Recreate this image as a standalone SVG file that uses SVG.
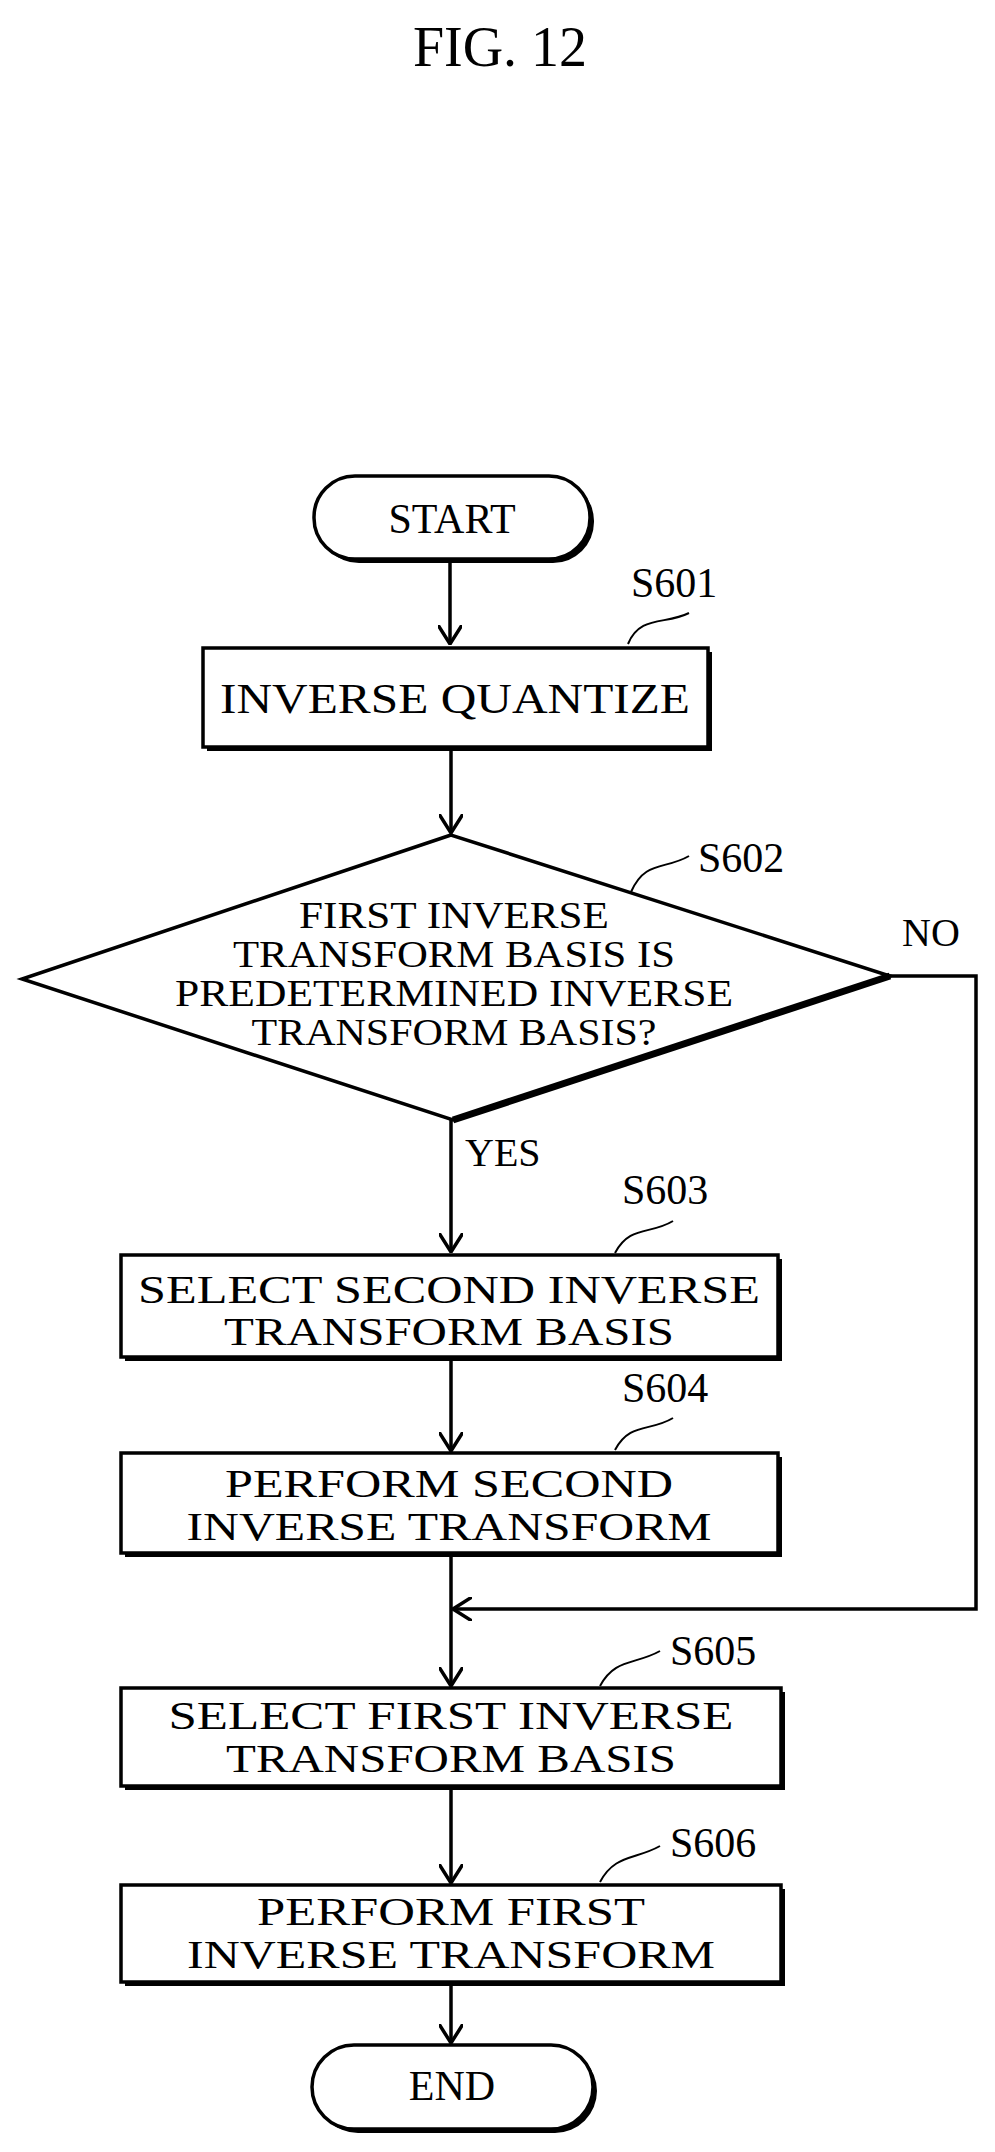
<svg xmlns="http://www.w3.org/2000/svg" width="995" height="2152" viewBox="0 0 995 2152">
<style>
text{font-family:"Liberation Serif","Times New Roman",serif;fill:#000;text-anchor:middle}
.t{font-size:40px}
.d{font-size:37px}
.l{font-size:42px;text-anchor:start}
.box{fill:#fff;stroke:#000;stroke-width:3.5}
.sh{fill:#000}
.ln{fill:none;stroke:#000;stroke-width:3.5}
.ld{fill:none;stroke:#000;stroke-width:2}
</style>
<defs>
<marker id="a" viewBox="0 0 20 24" refX="19" refY="12" markerWidth="20" markerHeight="24" markerUnits="userSpaceOnUse" orient="auto">
<path d="M0,0 L19,12 L0,24" fill="none" stroke="#000" stroke-width="3.5"/>
</marker>
</defs>
<text x="500" y="66" style="font-size:56px">FIG. 12</text>
<g id="start"><rect x="318" y="480" width="276" height="83" rx="41" class="sh"/><rect x="314" y="476" width="276" height="83" rx="41" class="box"/><text x="452" y="533" style="font-size:42px">START</text></g>
<g id="s601"><rect x="207" y="652" width="505" height="99" class="sh"/><rect x="203" y="648" width="505" height="99" class="box"/><text x="455" y="713" style="font-size:42px" textLength="470" lengthAdjust="spacingAndGlyphs">INVERSE QUANTIZE</text>
<path class="ld" d="M628,644 C640,615 665,625 689,613"/><text x="631" y="597" class="l">S601</text></g>
<g id="s602"><path d="M451,835 L22,979 L453,1120 L890,976 Z" fill="#fff" stroke="#000" stroke-width="3.5"/><path d="M453,1120 L890,976" stroke="#000" stroke-width="7"/>
<text x="454" y="928" class="d" textLength="310" lengthAdjust="spacingAndGlyphs">FIRST INVERSE</text>
<text x="454" y="967" class="d" textLength="442" lengthAdjust="spacingAndGlyphs">TRANSFORM BASIS IS</text>
<text x="454" y="1006" class="d" textLength="558" lengthAdjust="spacingAndGlyphs">PREDETERMINED INVERSE</text>
<text x="454" y="1045" class="d" textLength="405" lengthAdjust="spacingAndGlyphs">TRANSFORM BASIS?</text>
<path class="ld" d="M631,892 C645,860 665,870 689,856"/><text x="698" y="872" class="l">S602</text></g>
<g id="s603"><rect x="125" y="1259" width="657" height="102" class="sh"/><rect x="121" y="1255" width="657" height="102" class="box"/>
<text x="449" y="1303" class="t" textLength="622" lengthAdjust="spacingAndGlyphs">SELECT SECOND INVERSE</text>
<text x="449" y="1345" class="t" textLength="450" lengthAdjust="spacingAndGlyphs">TRANSFORM BASIS</text>
<path class="ld" d="M615,1253 C630,1225 650,1235 673,1221"/><text x="622" y="1204" class="l">S603</text></g>
<g id="s604"><rect x="125" y="1457" width="657" height="100" class="sh"/><rect x="121" y="1453" width="657" height="100" class="box"/>
<text x="449" y="1497" class="t" textLength="448" lengthAdjust="spacingAndGlyphs">PERFORM SECOND</text>
<text x="449" y="1540" class="t" textLength="525" lengthAdjust="spacingAndGlyphs">INVERSE TRANSFORM</text>
<path class="ld" d="M615,1450 C630,1422 650,1432 673,1418"/><text x="622" y="1402" class="l">S604</text></g>
<g id="s605"><rect x="125" y="1692" width="660" height="98" class="sh"/><rect x="121" y="1688" width="660" height="98" class="box"/>
<text x="451" y="1729" class="t" textLength="565" lengthAdjust="spacingAndGlyphs">SELECT FIRST INVERSE</text>
<text x="451" y="1772" class="t" textLength="450" lengthAdjust="spacingAndGlyphs">TRANSFORM BASIS</text>
<path class="ld" d="M600,1686 C615,1658 635,1665 660,1651"/><text x="670" y="1665" class="l">S605</text></g>
<g id="s606"><rect x="125" y="1889" width="660" height="97" class="sh"/><rect x="121" y="1885" width="660" height="97" class="box"/>
<text x="451" y="1925" class="t" textLength="388" lengthAdjust="spacingAndGlyphs">PERFORM FIRST</text>
<text x="451" y="1968" class="t" textLength="528" lengthAdjust="spacingAndGlyphs">INVERSE TRANSFORM</text>
<path class="ld" d="M600,1882 C615,1854 635,1860 660,1846"/><text x="670" y="1857" class="l">S606</text></g>
<g id="end"><rect x="316" y="2049" width="281" height="84" rx="42" class="sh"/><rect x="312" y="2045" width="281" height="84" rx="42" class="box"/><text x="452" y="2100" style="font-size:42px">END</text></g>
<g id="connectors">
<path class="ln" d="M450,559 V644" marker-end="url(#a)"/>
<path class="ln" d="M451,751 V833" marker-end="url(#a)"/>
<path class="ln" d="M451,1120 V1252" marker-end="url(#a)"/>
<path class="ln" d="M451,1361 V1451" marker-end="url(#a)"/>
<path class="ln" d="M451,1557 V1686" marker-end="url(#a)"/>
<path class="ln" d="M890,976 H976 V1609 H453" marker-end="url(#a)"/>
<path class="ln" d="M451,1790 V1883" marker-end="url(#a)"/>
<path class="ln" d="M451,1986 V2043" marker-end="url(#a)"/>
</g>
<text x="465" y="1166" style="font-size:40px;text-anchor:start">YES</text>
<text x="902" y="946" style="font-size:40px;text-anchor:start">NO</text>
</svg>
